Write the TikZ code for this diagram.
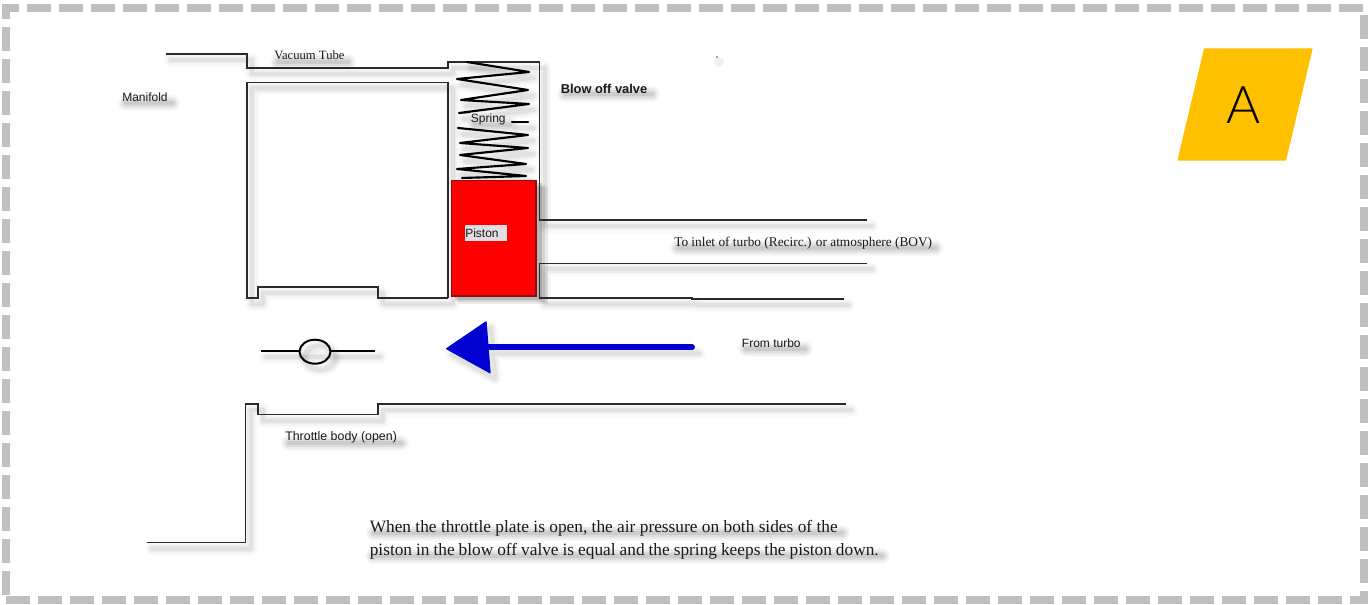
\documentclass[tikz,border=0pt]{standalone}
\usepackage{fontspec}
\setmainfont{Liberation Serif}
\setsansfont{Liberation Sans}
\newfontfamily\badgefont{Lato Light}
\definecolor{framegrey}{HTML}{C0C0C0}
\definecolor{badge}{HTML}{FFC000}
\definecolor{linedark}{HTML}{2A2A2A}
\definecolor{pistonred}{HTML}{FE0000}
\definecolor{pistonedge}{HTML}{8A1010}
\definecolor{arrowblue}{HTML}{0000D0}
\definecolor{labelbg}{HTML}{E2DEE4}
\newcommand\softpath[1]{%
  \begin{scope}[shift={(5,6)},line cap=round,line join=round]
    \draw[black,opacity=.02,line width=10pt] #1;
    \draw[black,opacity=.025,line width=7.5pt] #1;
    \draw[black,opacity=.035,line width=5pt] #1;
    \draw[black,opacity=.04,line width=3pt] #1;
  \end{scope}}
\newcommand\softtext[3]{% x1, x2, y of text
  \begin{scope}[shift={(4,6)},line cap=round]
    \draw[black,opacity=.03,line width=12pt] (#1,#3) -- (#2,#3);
    \draw[black,opacity=.05,line width=9pt] (#1,#3) -- (#2,#3);
    \draw[black,opacity=.06,line width=6pt] (#1,#3) -- (#2,#3);
    \draw[black,opacity=.07,line width=3pt] (#1,#3) -- (#2,#3);
  \end{scope}}
\tikzset{
  framedash/.style={draw=framegrey,line width=6pt,dash pattern=on 18pt off 6pt},
  wall/.style={draw=linedark,line width=1pt,line join=miter},
  coil/.style={draw=black,line width=1.6pt,line cap=round,line join=round},
  sanslabel/.style={font=\sffamily\fontsize{9}{11}\selectfont,anchor=west,inner sep=0pt,text=black!90},
  seriflabel/.style={font=\rmfamily\fontsize{9}{11}\selectfont,anchor=west,inner sep=0pt,text=black!90},
}
\begin{document}
\begin{tikzpicture}[x=0.75pt,y=-0.75pt]
\useasboundingbox (0,0) rectangle (1369,605);
\fill[white] (0,0) rectangle (1369,605);

% dashed frame
\draw[framedash,dash phase=5.25pt] (2,8) -- (1368,8);
\draw[framedash] (1364,15) -- (1364,604);
\draw[framedash,dash phase=6.75pt] (6,4) -- (6,596);
\draw[framedash] (6,600) -- (1368,600);

% soft shadows of the lines
\softpath{(166,54) -- (247,54) -- (247,68) -- (448,68) -- (448,62) -- (539.5,62) -- (539.5,220) -- (867,220)}
\softpath{(448,298) -- (448,82.5) -- (247,82.5) -- (247,298) -- (258,298) -- (258,287) -- (378,287) -- (378,298) -- (448,298)}
\softpath{(867,263.5) -- (539.5,263.5) -- (539.5,298) -- (692,298) -- (692,299) -- (843.5,299)}
\softpath{(846,404) -- (378,404) -- (378,414.5) -- (258,414.5) -- (258,404) -- (245.7,404) -- (245.7,542.7) -- (146.7,542.7)}
\softpath{(261,351) -- (375,351)}
\softpath{(315,351.7) ellipse [x radius=15.5, y radius=12]}
\softpath{(694,347.5) -- (490,347.5) (446.7,348.7) -- (486,322) -- (490,372.7) -- cycle}
\softpath{(467,62) -- (529,72) -- (457,79) -- (528,90) -- (461,100) -- (529,104) -- (459,113) -- (470,112) (512,122) -- (528,122) (458,128) -- (528,135) -- (460,143) -- (528,148) -- (460,155) -- (526,164) -- (457,169) -- (526,176) -- (462,178)}
\fill[black,opacity=.08] (459,187) rectangle (548,304);
\fill[black,opacity=.10] (457,185) rectangle (545,302);
\fill[black,opacity=.14] (455,183) rectangle (542,300);
\softtext{122}{168}{97}
\softtext{274}{344}{56}
\softtext{561}{648}{88}
\softtext{471}{506}{119}
\softtext{674}{931}{242}
\softtext{742}{801}{343}
\softtext{285}{397}{437}
\softtext{370}{838}{527}
\softtext{369}{878}{550}
\fill[black,opacity=.06] (719,62) circle (5);

% walls
\draw[wall] (166,54) -- (247,54) -- (247,68) -- (448,68) -- (448,62) -- (539.5,62) -- (539.5,220) -- (867,220);
\draw[wall] (448,298) -- (448,82.5) -- (247,82.5) -- (247,298) -- (258,298) -- (258,287) -- (378,287) -- (378,298) -- (448,298);
\draw[wall] (867,263.5) -- (539.5,263.5) -- (539.5,298) -- (692,298) -- (692,299) -- (843.5,299);
\draw[wall] (846,404) -- (378,404) -- (378,414.5) -- (258,414.5) -- (258,404) -- (245.7,404) -- (245.7,542.7) -- (146.7,542.7);

% spring
\draw[coil] (467,62) -- (529,72) -- (457,79) -- (528,90) -- (461,100) -- (529,104) -- (459,113) -- (470,112);
\draw[coil] (512,122) -- (528,122);
\draw[coil] (458,128) -- (528,135) -- (460,143) -- (528,148) -- (460,155) -- (526,164) -- (457,169) -- (526,176) -- (462,178);

% piston
\draw[draw=pistonedge,fill=pistonred,line width=1pt] (451.7,180.7) rectangle (536,296);
\node[fill=labelbg,minimum width=31.5pt,minimum height=12pt,inner sep=0pt] (pistonbox) at (485.8,233) {};
\node[sanslabel] (piston) at (465,233) {Piston};
\node[sanslabel] (spring) at (470.7,119) {Spring};

% throttle plate
\draw[draw=black,line width=1.2pt] (261,351) -- (300,351) (330.5,351) -- (375,351);
\draw[draw=black,line width=1.5pt] (315,351.7) ellipse [x radius=15.5, y radius=12];

% blue arrow
\draw[arrowblue,line width=4.5pt,line cap=round] (692,347.5) -- (486,347.5);
\fill[arrowblue,draw=arrowblue,line width=1pt,line join=round] (446.7,348.7) -- (486,322) -- (490,372.7) -- cycle;

% speck
\fill[black!70] (717,57) circle (0.8);

% labels
\node[sanslabel] (manifold) at (122,97) {Manifold};
\node[seriflabel,font=\rmfamily\fontsize{9.5}{11}\selectfont] (vacuum) at (274,55.5) {Vacuum Tube};
\node[sanslabel,font=\sffamily\bfseries\fontsize{9.65}{11}\selectfont] (bov) at (560.5,88.5) {Blow off valve};
\node[seriflabel,font=\rmfamily\fontsize{10}{12}\selectfont] (inlet) at (674,243) {To inlet of turbo (Recirc.) or atmosphere (BOV)};
\node[sanslabel] (fromturbo) at (741.7,343) {From turbo};
\node[sanslabel,font=\sffamily\fontsize{9.3}{11}\selectfont] (throttle) at (285,437.5) {Throttle body (open)};
\node[seriflabel,font=\rmfamily\fontsize{13}{17.25}\selectfont,align=left,anchor=north west] (note) at (369.5,520) {When the throttle plate is open, the air pressure on both sides of the\\\makebox[381.75pt][s]{piston in the blow off valve is equal and the spring keeps the piston down.}};

% badge
\fill[badge] (1204,48.5) -- (1312.7,48.5) -- (1286,160.7) -- (1177.3,160.7) -- cycle;
\node[font=\badgefont\fontsize{39}{39}\selectfont,inner sep=0pt,text=black] (badgeA) at (1244,105) {A};
\end{tikzpicture}
\end{document}
